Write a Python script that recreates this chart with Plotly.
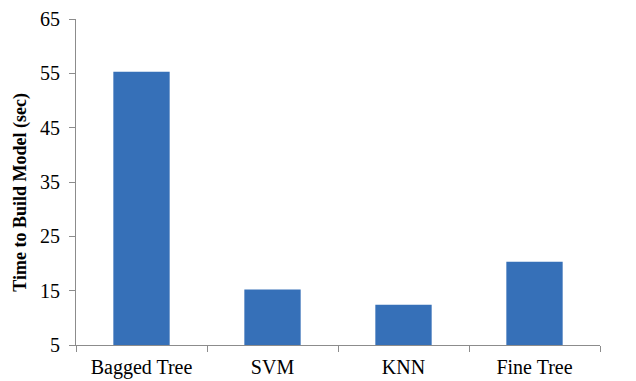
import plotly.graph_objects as go

# Model build times
models = ["Bagged Tree", "SVM", "KNN", "Fine Tree"]
build_time_sec = [55.3, 15.2, 12.4, 20.3]

# Axis ticks
y_ticks = [5, 15, 25, 35, 45, 55, 65]

fig = go.Figure()
fig.add_trace(go.Bar(
    x=models,
    y=build_time_sec,
    base=0,
    width=0.43,
    marker=dict(color="#3670b8", line=dict(width=0)),
    hoverinfo="x+y",
))

serif = "Liberation Serif, Times New Roman, serif"
fig.update_layout(
    width=636, height=381,
    margin=dict(l=76, r=36, t=19, b=36, autoexpand=False),
    paper_bgcolor="white", plot_bgcolor="white",
    showlegend=False,
    font=dict(family=serif, color="black", size=20),
    xaxis=dict(
        showline=True, linecolor="#8c8c8c", linewidth=1,
        ticks="outside", tickson="boundaries", ticklen=6, tickcolor="#8c8c8c",
        showgrid=False, tickfont=dict(family=serif, size=20),
        ticklabelstandoff=4, automargin=False,
    ),
    yaxis=dict(
        range=[5, 65], tickvals=y_ticks,
        showline=True, linecolor="#8c8c8c", linewidth=1,
        ticks="outside", ticklen=6, tickcolor="#8c8c8c",
        showgrid=False, zeroline=False,
        tickfont=dict(family=serif, size=20),
        ticklabelstandoff=5, automargin=False,
    ),
    annotations=[dict(
        text="<b>Time to Build Model (sec)</b>",
        textangle=-90, showarrow=False,
        xref="paper", yref="paper",
        x=-0.105, y=0.47, xanchor="center", yanchor="middle",
        font=dict(family=serif, size=18, color="black"),
    )],
)

fig.write_html("out.html")
